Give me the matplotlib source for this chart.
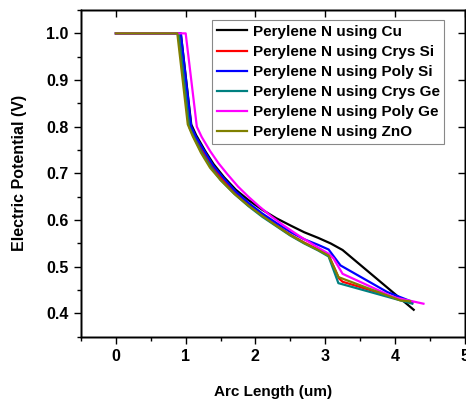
import matplotlib
matplotlib.use("Agg")
import matplotlib.pyplot as plt
from matplotlib.ticker import MultipleLocator

plt.rcParams["font.family"] = ["Liberation Sans", "DejaVu Sans"]

labels = [
    "Perylene N using Cu",
    "Perylene N using Crys Si",
    "Perylene N using Poly Si",
    "Perylene N using Crys Ge",
    "Perylene N using Poly Ge",
    "Perylene N using ZnO",
]
colors = ["#000000", "#ff0000", "#0000ff", "#008080", "#ff00ff", "#808000"]

cu_x = [0, 0.93, 1.08, 1.15, 1.28, 1.4, 1.55, 1.72, 1.9, 2.1, 2.3, 2.51, 2.7, 2.9, 3.08, 3.25, 4.27]
cu_y = [1.0, 1.0, 0.805, 0.782, 0.748, 0.720, 0.692, 0.665, 0.643, 0.622, 0.604, 0.588, 0.574, 0.562, 0.550, 0.536, 0.408]

crys_si_x = [0, 0.91, 1.06, 1.13, 1.25, 1.38, 1.52, 1.7, 1.9, 2.1, 2.3, 2.5, 2.7, 2.9, 3.05, 3.2, 3.25, 4.25]
crys_si_y = [1.0, 1.0, 0.80, 0.778, 0.745, 0.715, 0.688, 0.659, 0.633, 0.610, 0.589, 0.569, 0.552, 0.537, 0.525, 0.475, 0.468, 0.423]

poly_si_x = [0, 0.93, 1.08, 1.15, 1.28, 1.4, 1.55, 1.72, 1.9, 2.1, 2.3, 2.51, 2.7, 2.9, 3.05, 3.22, 3.89, 4.25]
poly_si_y = [1.0, 1.0, 0.80, 0.778, 0.745, 0.716, 0.689, 0.661, 0.637, 0.614, 0.594, 0.574, 0.559, 0.547, 0.537, 0.503, 0.446, 0.425]

crys_ge_x = [0, 0.90, 1.05, 1.12, 1.24, 1.37, 1.5, 1.7, 1.9, 2.1, 2.3, 2.5, 2.7, 2.9, 3.05, 3.19, 4.25]
crys_ge_y = [1.0, 1.0, 0.80, 0.777, 0.742, 0.712, 0.686, 0.656, 0.630, 0.607, 0.587, 0.567, 0.550, 0.535, 0.522, 0.465, 0.421]

poly_ge_x = [0, 1.0, 1.16, 1.23, 1.35, 1.47, 1.6, 1.75, 1.9, 2.05, 2.22, 2.4, 2.65, 2.9, 3.05, 3.12, 3.25, 3.98, 4.41]
poly_ge_y = [1.0, 1.0, 0.80, 0.778, 0.748, 0.722, 0.698, 0.672, 0.650, 0.630, 0.609, 0.589, 0.564, 0.541, 0.528, 0.518, 0.485, 0.435, 0.421]

zno_x = [0, 0.88, 1.03, 1.1, 1.22, 1.35, 1.5, 1.7, 1.9, 2.1, 2.3, 2.5, 2.7, 2.9, 3.05, 3.19, 4.08, 4.22]
zno_y = [1.0, 1.0, 0.805, 0.780, 0.744, 0.712, 0.686, 0.656, 0.631, 0.609, 0.588, 0.568, 0.551, 0.536, 0.524, 0.478, 0.428, 0.426]

series_x = [cu_x, crys_si_x, poly_si_x, crys_ge_x, poly_ge_x, zno_x]
series_y = [cu_y, crys_si_y, poly_si_y, crys_ge_y, poly_ge_y, zno_y]

fig = plt.figure(figsize=(4.66, 4.01), dpi=100)
ax = fig.add_axes([0.174, 0.160, 0.823, 0.815])

for xs, ys, c, lab in zip(series_x, series_y, colors, labels):
    ax.plot(xs, ys, color=c, lw=1.6, label=lab)

ax.set_xlim(-0.5, 5.0)
ax.set_ylim(0.35, 1.05)
ax.xaxis.set_major_locator(MultipleLocator(1))
ax.xaxis.set_minor_locator(MultipleLocator(0.5))
ax.yaxis.set_major_locator(MultipleLocator(0.1))
ax.yaxis.set_minor_locator(MultipleLocator(0.05))
ax.yaxis.set_major_formatter(plt.FormatStrFormatter("%.1f"))

ax.tick_params(which="both", direction="out", width=1.0,
               top=False, right=False, labelsize=11.5)
ax.tick_params(which="major", length=5, pad=4)
ax.tick_params(which="minor", length=3)
for lab in ax.get_xticklabels() + ax.get_yticklabels():
    lab.set_fontweight("bold")

# inward major ticks on top and right
ax2 = ax.twinx()
ax2.set_ylim(ax.get_ylim())
ax2.yaxis.set_major_locator(MultipleLocator(0.1))
ax2.tick_params(axis="y", direction="in", length=5, width=1.0, labelright=False)
ax3 = ax.twiny()
ax3.set_xlim(ax.get_xlim())
ax3.xaxis.set_major_locator(MultipleLocator(1))
ax3.tick_params(axis="x", direction="in", length=5, width=1.0, labeltop=False)

for a in (ax, ax2, ax3):
    for s in a.spines.values():
        s.set_linewidth(1.0)

ax.set_xlabel("Arc Length (um)", fontsize=11, fontweight="bold", labelpad=15)
ax.set_ylabel("Electric Potential (V)", fontsize=11.5, fontweight="bold", labelpad=14)

leg = ax.legend(loc="upper right", bbox_to_anchor=(0.947, 0.969), borderaxespad=0,
                fancybox=False, edgecolor="#888888", framealpha=1,
                prop={"weight": "bold", "size": 11}, handlelength=2.0,
                labelspacing=0.4, borderpad=0.3, handletextpad=0.35)
leg.get_frame().set_linewidth(0.8)

fig.savefig("out.png", dpi=100)
